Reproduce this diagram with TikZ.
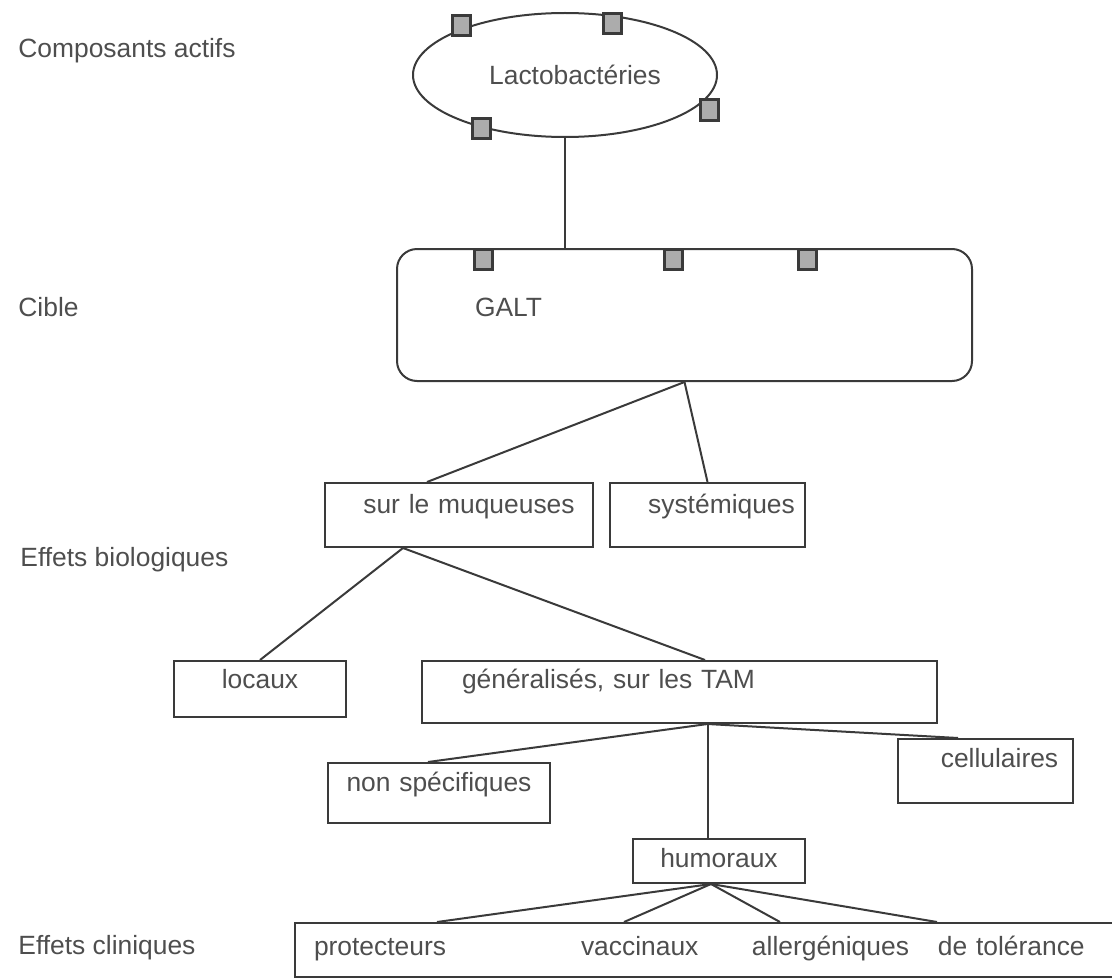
\documentclass[tikz,border=0pt]{standalone}
\usepackage{fontspec}
\setmainfont{Liberation Sans}
\usetikzlibrary{shapes.geometric}
\definecolor{inkLine}{RGB}{58,58,58}
\definecolor{inkText}{RGB}{78,78,78}
\definecolor{portFill}{RGB}{172,172,172}
\newcommand{\diagfont}{\fontsize{13.2pt}{15pt}\selectfont}
\tikzset{
  level label/.style={anchor=base west,inner sep=0pt,text=inkText,font=\diagfont},
  effect box/.style={draw=inkLine,line width=1pt,rectangle,anchor=north,inner xsep=0pt,inner ysep=0pt,align=center,text=inkText,font=\diagfont},
  port/.style={draw=inkLine,fill=portFill,line width=1.5pt,rectangle,inner sep=0pt,minimum width=9pt,minimum height=10pt},
  link/.style={draw=inkLine,line width=1pt}
}
\begin{document}
\begin{tikzpicture}[x=0.5pt,y=-0.5pt]
  \useasboundingbox (0,0) rectangle (1112,979);
  \clip (0,0) rectangle (1112,979);
  % level labels
  \node[level label] (lblActifs) at (18,57.5) {Composants actifs};
  \node[level label] (lblCible) at (18,316.5) {Cible};
  \node[level label] (lblBio) at (20,566.5) {Effets biologiques};
  \node[level label] (lblClin) at (18,954.5) {Effets cliniques};
  % active components and target
  \node[ellipse,draw=inkLine,line width=1pt,inner sep=0pt,minimum width=152pt,minimum height=62pt,text=inkText,font=\diagfont] (lacto) at (565,75) {\hspace*{10pt}Lactobactéries};
  \node[effect box,anchor=north west,rounded corners=10pt,align=left,inner xsep=39pt,text width=209.5pt,text height=33.75pt,text depth=32.25pt] (galt) at (396,248) {GALT};
  \node[port] (lp1) at (461,26) {};
  \node[port] (lp2) at (612,24) {};
  \node[port] (lp3) at (709,110) {};
  \node[port] (lp4) at (481,128) {};
  \node[port] (gp1) at (483,259) {};
  \node[port] (gp2) at (673,259) {};
  \node[port] (gp3) at (807,259) {};
  % biological effects
  \node[effect box,text width=134pt,text height=15.25pt,text depth=16.75pt] (muq) at (459,482) {\hspace*{10pt}sur le muqueuses};
  \node[effect box,text width=97.5pt,text height=15.25pt,text depth=16.75pt] (sys) at (707.5,482) {\hspace*{14pt}systémiques};
  \node[effect box,text width=86pt,text height=13.75pt,text depth=14.25pt] (loc) at (260,660) {locaux};
  \node[effect box,align=left,inner xsep=20pt,text width=217.5pt,text height=13.75pt,text depth=17.25pt] (gen) at (679.5,660) {généralisés, sur les TAM};
  \node[effect box,text width=111pt,text height=14.25pt,text depth=15.75pt] (nonspec) at (439,762) {non spécifiques};
  \node[effect box,text width=86pt,text height=14.25pt,text depth=7.75pt] (hum) at (719,838) {humoraux};
  \node[effect box,text width=87.5pt,text height=14.25pt,text depth=17.75pt] (cell) at (985.5,738) {\hspace*{14pt}cellulaires};
  % clinical effects
  \node[effect box,anchor=north west,align=left,inner xsep=9.5pt,text width=400pt,text height=16.25pt,text depth=10.75pt] (clin) at (294,922) {\makebox[133.5pt][l]{protecteurs}\makebox[85.5pt][l]{vaccinaux}\makebox[93pt][l]{allergéniques}de tolérance};
  \coordinate (muqfoot) at ([xshift=-28pt]muq.south);
  \coordinate (genfoot) at ([xshift=14pt]gen.south);
  \coordinate (humfoot) at ([xshift=-4pt]hum.south);
  \coordinate (cl1) at ([xshift=71.5pt]clin.north west);
  \coordinate (cl2) at ([xshift=165pt]clin.north west);
  \coordinate (cl3) at ([xshift=243pt]clin.north west);
  \coordinate (cl4) at ([xshift=321.5pt]clin.north west);
  % connectors
  \draw[link] (lacto.south) -- (lacto.south |- galt.north);
  \draw[link] (galt.south) -- ([xshift=-16pt]muq.north);
  \draw[link] (galt.south) -- (sys.north);
  \draw[link] (muqfoot) -- (loc.north);
  \draw[link] (muqfoot) -- ([xshift=12.75pt]gen.north);
  \draw[link] (genfoot) -- ([xshift=-5.5pt]nonspec.north);
  \draw[link] (genfoot) -- (genfoot |- hum.north);
  \draw[link] (genfoot) -- ([xshift=-13.75pt]cell.north);
  \draw[link] (humfoot) -- (cl1);
  \draw[link] (humfoot) -- (cl2);
  \draw[link] (humfoot) -- (cl3);
  \draw[link] (humfoot) -- (cl4);
\end{tikzpicture}
\end{document}
